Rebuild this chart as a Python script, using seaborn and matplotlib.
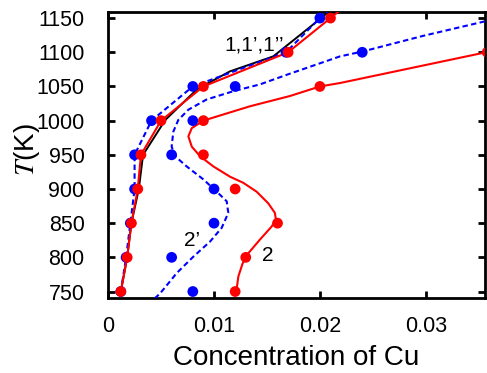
import pandas as pd
import matplotlib
matplotlib.use("Agg")
import matplotlib.pyplot as plt
import seaborn as sns

# Temperature grid of the sampled points
temps = [750, 800, 850, 900, 950, 1000, 1050, 1100, 1150]

# Curve 1 (red) and 1' (blue): sampled concentrations
c1_red = [0.0012, 0.0018, 0.0022, 0.0028, 0.0031, 0.0050, 0.0090, 0.0170, 0.0210]
c1_blue = [0.0012, 0.0017, 0.0021, 0.0025, 0.0025, 0.0041, 0.0080, 0.0168, 0.0200]
# lines continue past the top of the frame
t1_line = temps + [1170]
c1_red_line = c1_red + [0.0226]
c1_blue_line = c1_blue + [0.0215]

# Curve 1'' (black line, no markers)
t1_black = [750, 800, 850, 900, 950, 1001, 1046, 1072, 1094, 1151, 1170]
c1_black = [0.0012, 0.0018, 0.0022, 0.0029, 0.0033, 0.0054, 0.0084, 0.0115, 0.0156, 0.0202, 0.0216]

# Curve 2 (red) sampled points
t2_pts = [750, 800, 850, 900, 950, 1000, 1050, 1100]
c2_pts = [0.0120, 0.0130, 0.0160, 0.0120, 0.0090, 0.0090, 0.0200, 0.0358]
# Curve 2 fitted line
t2_fit = [747, 772, 791, 806, 826, 845, 855, 865, 879, 896, 909, 918, 933, 948, 962, 977,
          989, 1000, 1009, 1021, 1036, 1050, 1055, 1101]
c2_fit = [0.01208, 0.01230, 0.01270, 0.01324, 0.01434, 0.01544, 0.01585, 0.01575, 0.01513,
          0.01403, 0.01277, 0.01151, 0.00994, 0.00868, 0.00790, 0.00758, 0.00790, 0.00900,
          0.01088, 0.01340, 0.01717, 0.02000, 0.02190, 0.03600]

# Curve 2' (blue) sampled points
t2p_pts = [750, 800, 850, 900, 950, 1000, 1050, 1100]
c2p_pts = [0.0080, 0.0060, 0.0100, 0.0100, 0.0060, 0.0080, 0.0120, 0.0240]
# Curve 2' fitted line
t2p_fit = [740, 747, 777, 801, 823, 843, 865, 882, 894, 914, 933, 948, 962, 984, 1001, 1016,
           1031, 1043, 1053, 1067, 1094, 1101, 1124, 1146]
c2p_fit = [0.00440, 0.00490, 0.00648, 0.00805, 0.00962, 0.01072, 0.01135, 0.01120, 0.01040,
           0.00900, 0.00742, 0.00632, 0.00600, 0.00616, 0.00663, 0.00758, 0.00931, 0.01182,
           0.01434, 0.01686, 0.02190, 0.02400, 0.02975, 0.03580]

RED = "#ff0000"
BLUE = "#0000ff"

sns.set_theme(style="ticks")
plt.rcParams["font.family"] = ["Liberation Sans", "DejaVu Sans"]
plt.rcParams["mathtext.fontset"] = "stix"
plt.rcParams["text.color"] = "black"
plt.rcParams["axes.labelcolor"] = "black"
plt.rcParams["xtick.color"] = "black"
plt.rcParams["ytick.color"] = "black"

fig = plt.figure(figsize=(4.87, 3.73), dpi=100)
ax = fig.add_axes([0.222, 0.201, 0.774, 0.767])


def curve(c, t, color, dashed=False, lw=1.5, zorder=2):
    df = pd.DataFrame({"c": c, "T": t})
    sns.lineplot(data=df, x="c", y="T", sort=False, estimator=None, color=color,
                 lw=lw, ax=ax, zorder=zorder,
                 linestyle=(0, (2.6, 1.6)) if dashed else "-")


def dots(c, t, color, zorder=4):
    df = pd.DataFrame({"c": c, "T": t})
    sns.scatterplot(data=df, x="c", y="T", color=color, s=60, edgecolor="none",
                    ax=ax, zorder=zorder)


curve(c1_black, t1_black, "black", lw=1.4, zorder=2)
curve(c1_blue_line, t1_line, BLUE, dashed=True, zorder=3)
curve(c1_red_line, t1_line, RED, zorder=3)
curve(c2p_fit, t2p_fit, BLUE, dashed=True, zorder=3)
curve(c2_fit, t2_fit, RED, zorder=3)

dots(c1_blue, temps, BLUE, zorder=4)
dots(c1_red, temps, RED, zorder=5)
dots(c2p_pts, t2p_pts, BLUE, zorder=4)
dots(c2_pts, t2_pts, RED, zorder=5)

ax.text(0.01377, 1111, "1,1\u2019,1\u2019\u2019", fontsize=15, ha="center", va="center", color="black")
ax.text(0.00797, 825, "2\u2019", fontsize=15, ha="center", va="center", color="black")
ax.text(0.01505, 803, "2", fontsize=15, ha="center", va="center", color="black")

ax.set_xlim(0, 0.0356)
ax.set_ylim(740.5, 1159)
ax.set_xticks([0, 0.01, 0.02, 0.03])
ax.set_xticklabels(["0", "0.01", "0.02", "0.03"])
ax.set_yticks(temps)
ax.set_xlabel("Concentration of Cu", fontsize=20, color="black")
ax.set_ylabel("$T$(K)", fontsize=20, color="black")
ax.xaxis.set_label_coords(0.5, -0.165)
ax.yaxis.set_label_coords(-0.175, 0.52)

ax.tick_params(direction="in", length=5, width=2, labelsize=15.5, top=True, right=True,
               colors="black", labelcolor="black")
ax.tick_params(axis="x", pad=13)
ax.tick_params(axis="y", pad=17)
for s in ax.spines.values():
    s.set_linewidth(2)
    s.set_color("black")

fig.savefig("out.png", dpi=100)
